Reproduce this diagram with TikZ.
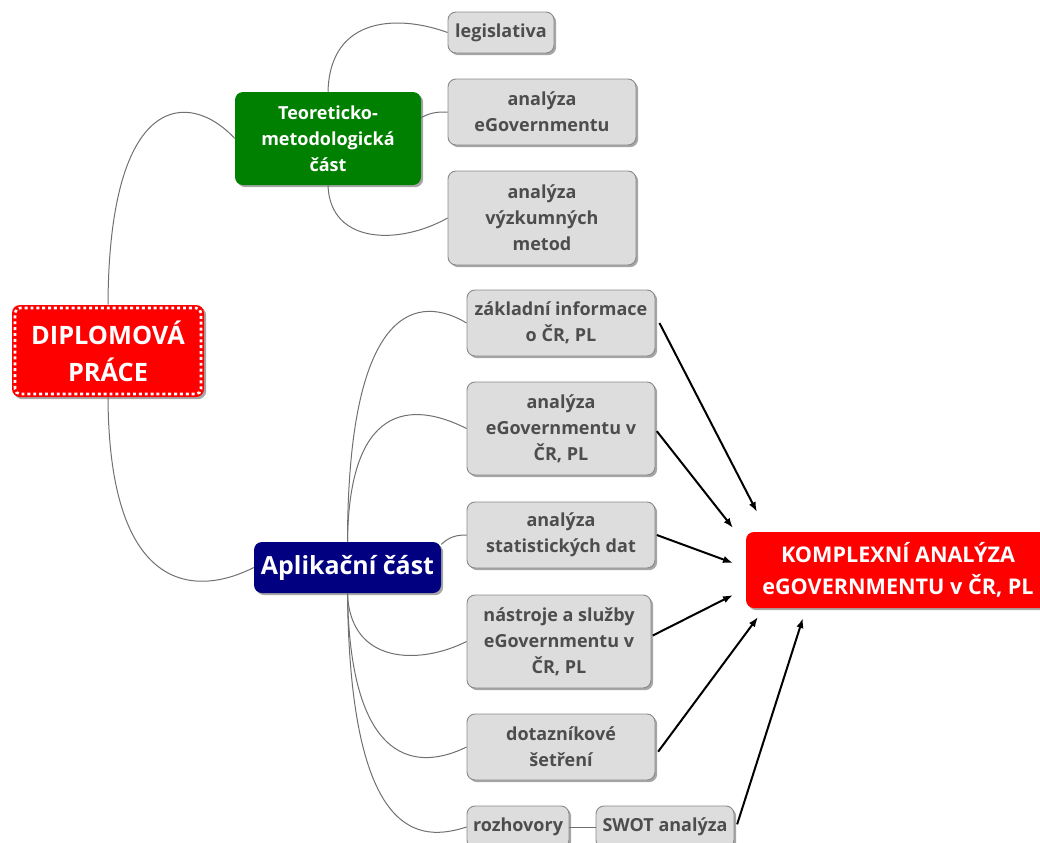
\documentclass[tikz,border=0pt]{standalone}
\usepackage{fontspec}
\setmainfont{Open Sans}
\usetikzlibrary{arrows.meta,shadows}

\definecolor{leaffill}{HTML}{DDDDDD}
\definecolor{leafline}{HTML}{8A8A8A}
\definecolor{leaftext}{HTML}{4D4D4D}
\definecolor{linkgray}{HTML}{707070}
\definecolor{rootred}{HTML}{FF0000}
\definecolor{theorygreen}{HTML}{008000}
\definecolor{appblue}{HTML}{000080}

\begin{document}
\begin{tikzpicture}[
  x=0.75pt, y=-0.75pt,
  boxbase/.style={rounded corners=6pt, align=center, inner sep=0pt,
    drop shadow={shadow xshift=1.6pt, shadow yshift=-1.6pt, opacity=0.35, fill=black}},
  leaf/.style={boxbase, fill=leaffill, draw=leafline, line width=0.7pt, text=leaftext,
    font=\fontsize{13.5}{19.5}\selectfont\bfseries},
  branch/.style={boxbase, text=white, font=\fontsize{13.5}{19.5}\selectfont\bfseries},
  link/.style={draw=linkgray, line width=0.75pt},
  feed/.style={draw=black, line width=1.5pt, -{Latex[length=7.5pt,width=5.5pt]}}
]
\useasboundingbox (0,0) rectangle (1040,843);
\clip (0,0) rectangle (1040,843);

% root
\node[boxbase, fill=rootred, text=white, minimum width=144pt, minimum height=69pt,
      font=\fontsize{19}{27.75}\selectfont\bfseries] (dip) at (108,351) {DIPLOMOVÁ\\PRÁCE};
\draw[white, line width=2pt, dash pattern=on 2.2pt off 2.2pt, rounded corners=4pt]
  ([shift={(2.4pt,2.4pt)}]dip.south west) rectangle ([shift={(-2.4pt,-2.4pt)}]dip.north east);

% main branches
\node[branch, fill=theorygreen, minimum width=139.5pt, minimum height=69.75pt] (teo) at (328,138.5)
  {Teoreticko-\\metodologická\\část};
\node[boxbase, fill=appblue, text=white, minimum width=140.25pt, minimum height=38.25pt,
      font=\fontsize{18.7}{22}\selectfont\bfseries] (apl) at (347.5,567.5) {Aplikační část};

% theory leaves
\node[leaf, minimum width=79.5pt, minimum height=30.75pt] (leg) at (501,32.5) {legislativa};
\node[leaf, minimum width=141pt, minimum height=49.5pt] (aeg) at (542,112) {analýza\\eGovernmentu};
\node[leaf, minimum width=141pt, minimum height=70.5pt] (avm) at (542,218) {analýza\\výzkumných\\metod};

% application leaves
\node[leaf, minimum width=141pt, minimum height=49.5pt] (zak) at (561,323) {základní informace\\o ČR, PL};
\node[leaf, minimum width=141pt, minimum height=69.75pt] (aegcr) at (561,428.5) {analýza\\eGovernmentu v\\ČR, PL};
\node[leaf, minimum width=141pt, minimum height=49.5pt] (stat) at (561,535) {analýza\\statistických dat};
\node[leaf, minimum width=138pt, minimum height=69.75pt] (nas) at (559,641.5) {nástroje a služby\\eGovernmentu v\\ČR, PL};
\node[leaf, minimum width=141pt, minimum height=49.5pt] (dot) at (561,747) {dotazníkové\\šetření};
\node[leaf, minimum width=76.5pt, minimum height=31.5pt] (roz) at (518,827) {rozhovory};
\node[leaf, minimum width=103.5pt, minimum height=31.5pt] (swot) at (665,827) {SWOT analýza};

% result
\node[boxbase, fill=rootred, text=white, minimum width=228pt, minimum height=57pt,
      font=\fontsize{16.2}{24}\selectfont\bfseries] (kom) at (898,570)
  {KOMPLEXNÍ ANALÝZA\\eGOVERNMENTU v ČR, PL};

% mind-map links
\draw[link] (dip.north) .. controls (109,90) and (190,90) .. (teo.west);
\draw[link] (dip.south) .. controls (109,600) and (200,595) .. (apl.west);
\draw[link] (teo.north) .. controls (330,15) and (400,15) .. (leg.west);
\draw[link] ([yshift=15.75pt]teo.east) .. controls (432,112) and (438,112) .. (aeg.west);
\draw[link] (teo.south) .. controls (330,245) and (400,245) .. (avm.west);
\draw[link] (apl.north) .. controls (348,300) and (420,295) .. (zak.west);
\draw[link] (apl.north) .. controls (349,405) and (410,400) .. (aegcr.west);
\draw[link] ([yshift=-2pt]apl.north east) .. controls (450,536) and (458,535) .. (stat.west);
\draw[link] (apl.south) .. controls (350,665) and (420,665) .. (nas.west);
\draw[link] (apl.south) .. controls (350,770) and (420,770) .. (dot.west);
\draw[link] (apl.south) .. controls (350,842) and (420,842) .. (roz.west);
\draw[link] (roz.east) -- (swot.west);

% arrow tips in front of the result box
\coordinate (t1) at (757,512);
\coordinate (t2) at (733,528);
\coordinate (t3) at (733,563);
\coordinate (t4) at (733,595);
\coordinate (t5) at (758,617);
\coordinate (t6) at (803,618);

\draw[feed] ([xshift=3pt]zak.east) -- (t1);
\draw[feed] ([shift={(1pt,-2pt)}]aegcr.east) -- (t2);
\draw[feed] ([xshift=1pt]stat.east) -- (t3);
\draw[feed] ([shift={(1pt,4.5pt)}]nas.east) -- (t4);
\draw[feed] ([shift={(2pt,-3.5pt)}]dot.east) -- (t5);
\draw[feed] ([shift={(2pt,2pt)}]swot.east) -- (t6);
\end{tikzpicture}
\end{document}
